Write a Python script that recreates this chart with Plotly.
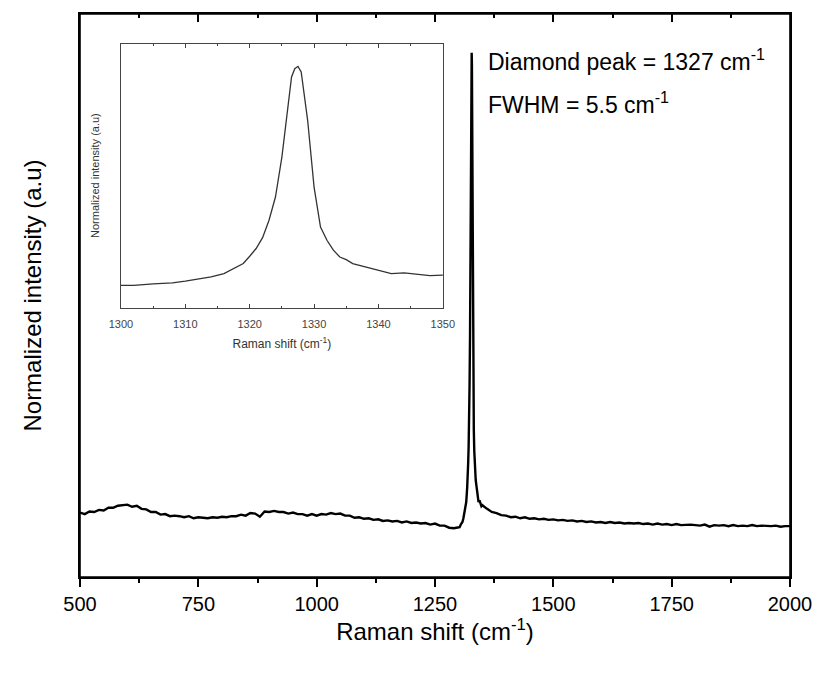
import plotly.graph_objects as go

# Raman spectrum (normalized so the diamond peak = 1)
shift_low = [500, 510, 520, 530, 540, 550, 560, 570, 580, 590, 600, 610, 620, 630, 640, 650,
             660, 670, 680, 690, 700, 710, 720, 730, 740, 750, 760, 770, 780, 790, 800, 810,
             820, 830, 840, 850, 860, 870, 880, 890, 900, 910, 920, 930, 940, 950, 960, 970,
             980, 990, 1000, 1010, 1020, 1030, 1040, 1050, 1060, 1070, 1080, 1090, 1100, 1110,
             1120, 1130, 1140, 1150, 1160, 1170, 1180, 1190, 1200, 1210, 1220, 1230, 1240, 1250,
             1260, 1270, 1280, 1290, 1295]
int_low = [0.123, 0.120, 0.125, 0.124, 0.128, 0.127, 0.132, 0.132, 0.136, 0.137, 0.138, 0.134,
           0.136, 0.130, 0.129, 0.124, 0.124, 0.119, 0.120, 0.116, 0.117, 0.116, 0.114, 0.116,
           0.112, 0.114, 0.113, 0.112, 0.114, 0.113, 0.115, 0.114, 0.116, 0.116, 0.119, 0.117,
           0.122, 0.121, 0.115, 0.125, 0.124, 0.126, 0.124, 0.124, 0.121, 0.123, 0.120, 0.120,
           0.117, 0.120, 0.117, 0.120, 0.119, 0.122, 0.120, 0.121, 0.117, 0.117, 0.113, 0.114,
           0.111, 0.112, 0.109, 0.110, 0.107, 0.108, 0.106, 0.107, 0.104, 0.106, 0.103, 0.104,
           0.102, 0.103, 0.100, 0.102, 0.098, 0.098, 0.094, 0.093, 0.094]

shift_peak = [1300, 1302, 1305, 1308, 1310, 1312, 1314, 1316, 1318, 1319, 1320, 1321, 1322,
              1323, 1324, 1325, 1326, 1326.5, 1327, 1327.5, 1328, 1328.5, 1329, 1330, 1331,
              1332, 1333, 1334, 1335, 1336, 1338, 1340, 1342, 1344, 1346, 1348, 1350]
int_peak = [0.095, 0.095, 0.101, 0.105, 0.112, 0.121, 0.130, 0.143, 0.171, 0.185, 0.215,
            0.247, 0.292, 0.364, 0.460, 0.625, 0.846, 0.956, 0.990, 1.000, 0.977, 0.887,
            0.777, 0.501, 0.336, 0.281, 0.240, 0.212, 0.201, 0.185, 0.171, 0.157, 0.143,
            0.146, 0.141, 0.135, 0.137]

shift_high = [1355, 1360, 1370, 1380, 1390, 1400, 1410, 1420, 1430, 1440, 1450, 1460, 1470,
              1480, 1490, 1500, 1510, 1520, 1530, 1540, 1550, 1560, 1570, 1580, 1590, 1600,
              1610, 1620, 1630, 1640, 1650, 1660, 1670, 1680, 1690, 1700, 1710, 1720, 1730,
              1740, 1750, 1760, 1770, 1780, 1790, 1800, 1810, 1820, 1830, 1840, 1850, 1860,
              1870, 1880, 1890, 1900, 1910, 1920, 1930, 1940, 1950, 1960, 1970, 1980, 1990, 2000]
int_high = [0.133, 0.130, 0.124, 0.122, 0.118, 0.117, 0.114, 0.115, 0.112, 0.114, 0.111,
            0.112, 0.110, 0.111, 0.109, 0.110, 0.108, 0.109, 0.107, 0.108, 0.106, 0.107,
            0.105, 0.106, 0.104, 0.105, 0.103, 0.105, 0.103, 0.104, 0.102, 0.103, 0.102,
            0.103, 0.101, 0.102, 0.100, 0.102, 0.100, 0.101, 0.099, 0.101, 0.099, 0.100,
            0.100, 0.099, 0.098, 0.100, 0.096, 0.099, 0.098, 0.099, 0.097, 0.099, 0.097,
            0.098, 0.097, 0.099, 0.097, 0.098, 0.097, 0.097, 0.098, 0.096, 0.097, 0.097]

shift = shift_low + shift_peak + shift_high
intensity = int_low + int_peak + int_high

font = "Liberation Sans, Arial, sans-serif"
major = [500, 750, 1000, 1250, 1500, 1750, 2000]

fig = go.Figure()
fig.add_trace(go.Scatter(x=shift, y=intensity, mode="lines",
                         line=dict(color="black", width=2.4), showlegend=False))
# same data on the top axis (invisible) so its inward ticks get drawn
fig.add_trace(go.Scatter(x=shift, y=intensity, mode="lines", xaxis="x3", yaxis="y",
                         line=dict(color="rgba(0,0,0,0)", width=0), showlegend=False,
                         hoverinfo="skip"))
fig.add_trace(go.Scatter(x=shift, y=intensity, mode="lines", xaxis="x2", yaxis="y2",
                         line=dict(color="#333333", width=1.3), showlegend=False))

# page body adds an 8px offset, so the figure is 8px smaller
fig.update_layout(
    width=812, height=666,
    margin=dict(l=72, r=30, t=6, b=97),
    plot_bgcolor="white", paper_bgcolor="white",
    font=dict(family=font, color="black"),
    xaxis=dict(range=[500, 2000], tickvals=major, automargin=False,
               ticks="outside", ticklen=8, tickwidth=1.5, tickcolor="black",
               minor=dict(dtick=125, tick0=500, ticks="outside", ticklen=4, tickwidth=1.5,
                          tickcolor="black"),
               showline=True, linewidth=1.6, linecolor="black", mirror=True,
               showgrid=False, zeroline=False, tickfont=dict(size=20),
               title=dict(text="Raman shift (cm<sup>-1</sup>)", font=dict(size=24), standoff=7)),
    xaxis3=dict(range=[500, 2000], overlaying="x", anchor="y", side="top",
                showticklabels=False, automargin=False, tickvals=major,
                ticks="inside", ticklen=8, tickwidth=1.5, tickcolor="black",
                minor=dict(dtick=125, tick0=500, ticks="inside", ticklen=4, tickwidth=1.5,
                           tickcolor="black"),
                showgrid=False, zeroline=False,
                showline=True, linewidth=1.6, linecolor="black"),
    yaxis=dict(range=[0, 1.074], showticklabels=False, ticks="", automargin=False,
               showline=True, linewidth=1.6, linecolor="black", mirror=True,
               showgrid=False, zeroline=False,
               title=dict(text="Normalized intensity (a.u)", font=dict(size=24), standoff=30)),
    xaxis2=dict(domain=[0.0577, 0.511], anchor="y2", range=[1300, 1350], dtick=10,
                automargin=False,
                ticks="inside", ticklen=4, tickwidth=1, tickcolor="#444",
                minor=dict(dtick=5, ticks="inside", ticklen=2, tickcolor="#444"),
                showline=True, linewidth=1, linecolor="#444", mirror="ticks",
                showgrid=False, zeroline=False, tickfont=dict(size=11, color="#444"),
                ticklabelstandoff=6,
                title=dict(text="Raman shift (cm<sup>-1</sup>)",
                           font=dict(size=12, color="#333"), standoff=10)),
    yaxis2=dict(domain=[0.4786, 0.9474], anchor="x2", range=[0.003, 1.094],
                automargin=False,
                showticklabels=False, ticks="",
                showline=True, linewidth=1, linecolor="#444", mirror=True,
                showgrid=False, zeroline=False,
                title=dict(text="Normalized intensity (a.u)",
                           font=dict(size=11, color="#333"), standoff=18)),
    shapes=[dict(type="rect", xref="paper", yref="paper", x0=0, x1=1, y0=0, y1=1,
                 line=dict(color="black", width=1.6), layer="above")],
    annotations=[
        dict(text="Diamond peak = 1327 cm<sup>-1</sup>", xref="paper", yref="paper",
             x=0.572, y=0.918, xanchor="left", yanchor="middle", showarrow=False,
             font=dict(size=23, color="black")),
        dict(text="FWHM = 5.5 cm<sup>-1</sup>", xref="paper", yref="paper",
             x=0.572, y=0.842, xanchor="left", yanchor="middle", showarrow=False,
             font=dict(size=23, color="black")),
    ],
)

fig.write_html("out.html")
